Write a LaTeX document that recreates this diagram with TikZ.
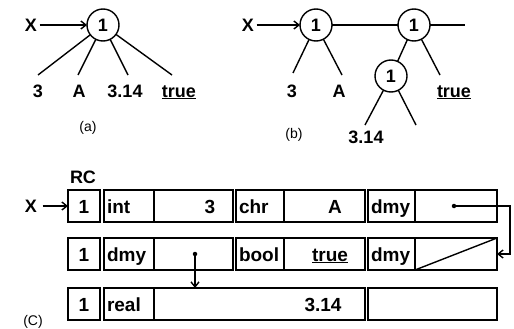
\documentclass[tikz,border=0pt]{standalone}
\usepackage{fontspec}
\setmainfont{Liberation Sans}
\usetikzlibrary{arrows.meta}

\begin{document}
\begin{tikzpicture}[x=1pt, y=-1pt, line width=1.4pt,
  every node/.style={font=\fontsize{18}{20}\selectfont\bfseries, inner sep=0pt},
  ref/.style={circle, draw, minimum size=32pt, outer sep=0pt},
  caption/.style={font=\fontsize{14}{16}\selectfont},
  cell/.style={draw, anchor=north west, outer sep=0pt, minimum height=32pt,
    font=\fontsize{19}{21}\selectfont\bfseries, text height=16pt, text depth=2pt},
  tcell/.style={cell, text width=#1, inner xsep=3pt, align=left},
  val/.style={anchor=base, font=\fontsize{19}{21}\selectfont\bfseries},
  leaf/.style={anchor=base},
  tip/.style={-{Straight Barb[length=5pt,width=8pt]}},
  dot/.style={circle, fill, minimum size=4.5pt, outer sep=0pt},
]
\useasboundingbox (0,0) rectangle (514,329);

% ---- (a) one record node holding all four fields
\node (xa) at (31,25) {X};
\node[ref] (a1) at (103,25) {1};
\draw[tip, shorten <=2pt] (xa) -- (a1);
\coordinate (ae1) at (38,75);
\coordinate (ae2) at (78,75);
\coordinate (ae3) at (128,75);
\coordinate (ae4) at (172,75);
\draw (a1) -- (ae1) (a1) -- (ae2) (a1) -- (ae3) (a1) -- (ae4);
\node[leaf] (la1) at (38,97) {3};
\node[leaf] (la2) at (79,97) {A};
\node[leaf] (la3) at (125,97) {3.14};
\node[leaf] (la4) at (179,97) {\underline{true}};
\node[caption] (capa) at (88,128) {(a)};

% ---- (b) the same data as a chain of binary nodes
\node (xb) at (248,25) {X};
\node[ref] (b1) at (316,25) {1};
\node[ref] (b2) at (414,25) {1};
\node[ref] (b3) at (391,76) {1};
\draw[tip, shorten <=2pt] (xb) -- (b1);
\draw (b1) -- (b2);
\coordinate (bt) at (465,25);
\draw (b2) -- (bt);
\coordinate (be1) at (293,73);
\coordinate (be2) at (342,75);
\coordinate (be3) at (440,75);
\coordinate (be4) at (365,125);
\coordinate (be5) at (416,125);
\draw (b1) -- (be1) (b1) -- (be2) (b2) -- (b3) (b2) -- (be3)
      (b3) -- (be4) (b3) -- (be5);
\node[leaf] (lb1) at (292,97) {3};
\node[leaf] (lb2) at (339,97) {A};
\node[leaf] (lb3) at (454,97) {\underline{true}};
\node[leaf] (lb4) at (366,143) {3.14};
\node[caption] (capb) at (294,135) {(b)};

% ---- (c) memory layout with reference counts
\node (rc) at (83,177) {RC};
\node (xc) at (31,206) {X};

% row 1
\node[cell, minimum width=32pt] (rc1) at (68,190) {1};
\node[tcell=44pt] (t1) at (104,190) {int};
\node[cell, minimum width=79pt] (v1) at (154,190) {};
\node[tcell=42pt] (t2) at (236,190) {chr};
\node[cell, minimum width=81pt] (v2) at (284,190) {};
\node[tcell=41pt] (t3) at (368,190) {dmy};
\node[cell, minimum width=82pt] (p1) at (415,190) {};
\node[val] (n3) at (210,213) {3};
\node[val] (nA) at (335,213) {A};

% row 2
\node[cell, minimum width=32pt] (rc2) at (68,238) {1};
\node[tcell=44pt] (t4) at (104,238) {dmy};
\node[cell, minimum width=79pt] (p2) at (154,238) {};
\node[tcell=42pt] (t5) at (236,238) {bool};
\node[cell, minimum width=81pt] (v3) at (284,238) {};
\node[tcell=41pt] (t6) at (368,238) {dmy};
\node[cell, minimum width=82pt] (nil) at (415,238) {};
\node[val] (ntrue) at (330,261) {\underline{true}};
\draw (nil.south west) -- (nil.north east);

% row 3
\node[cell, minimum width=32pt] (rc3) at (68,288) {1};
\node[tcell=44pt] (t7) at (104,288) {real};
\node[cell, minimum width=211pt] (v4) at (154,288) {};
\node[cell, minimum width=129pt] (e4) at (368,288) {};
\node[val] (npi) at (323,311) {3.14};

\node[caption] (capc) at (33,322) {(C)};

% pointers
\draw[tip, shorten <=5pt] (xc) -- (rc1.west);
\node[dot] (d1) at (454,206) {};
\node[dot] (d2) at (195,254) {};
\draw[tip] (d1) -- ++(56,0) |- (nil.east);
\draw[tip] (d2) -- (d2 |- v4.north);
\end{tikzpicture}
\end{document}
